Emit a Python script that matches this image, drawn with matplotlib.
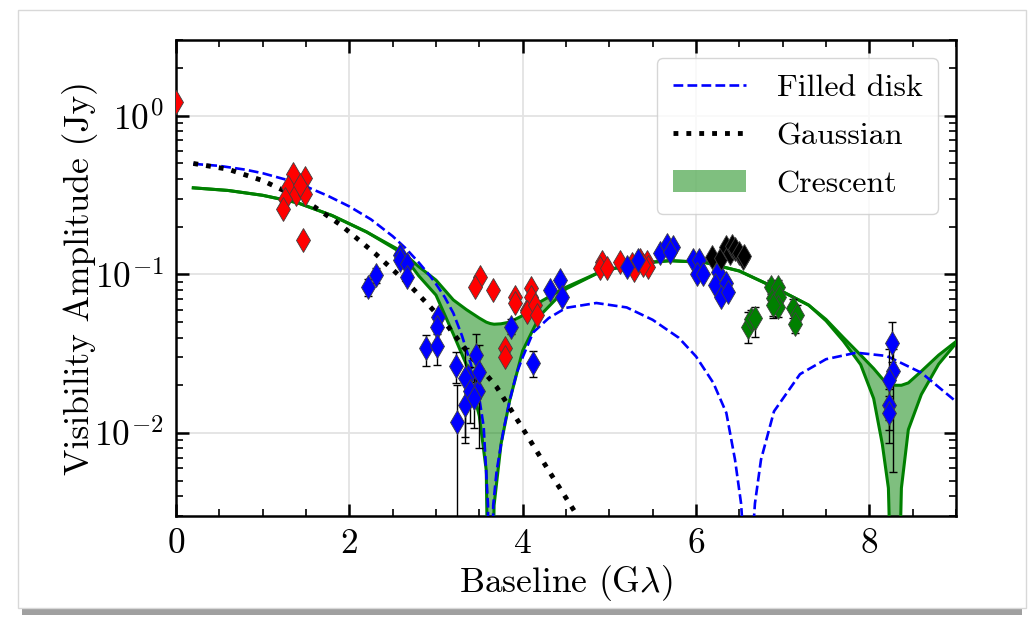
import matplotlib
matplotlib.use("Agg")
import matplotlib.pyplot as plt
import numpy as np
from matplotlib.ticker import AutoMinorLocator, LogLocator, NullFormatter
from matplotlib.patches import Rectangle

plt.rcParams['font.family'] = 'serif'
plt.rcParams['font.serif'] = ['cmr10']
plt.rcParams['mathtext.fontset'] = 'cm'
plt.rcParams['axes.formatter.use_mathtext'] = True
plt.rcParams['axes.unicode_minus'] = False

# ---------------- model curves ----------------
disk_x = [0.2, 0.5, 0.8, 1.0, 1.25, 1.5, 1.75, 2.0, 2.25, 2.5, 2.65, 2.8, 2.93, 3.0,
          3.1, 3.2, 3.3, 3.4, 3.5, 3.55, 3.6, 3.63, 3.66, 3.70, 3.78, 3.85, 3.93,
          4.0, 4.12, 4.3, 4.5, 4.85, 5.2, 5.5, 5.8, 6.0, 6.2, 6.35, 6.45, 6.52, 6.57,
          6.60, 6.63, 6.68, 6.75, 6.9, 7.2, 7.5, 7.85, 8.2, 8.6, 9.0]
disk_v = [0.497, 0.483, 0.457, 0.434, 0.398, 0.358, 0.313, 0.268, 0.222, 0.174, 0.146,
          0.119, 0.098, 0.087, 0.072, 0.057, 0.041, 0.0275, 0.0165, 0.011, 0.0035,
          0.00001, 0.0035, 0.0058, 0.0105, 0.016, 0.0238, 0.030, 0.043, 0.053, 0.0615,
          0.066, 0.0619, 0.0517, 0.0399, 0.0304, 0.0207, 0.0134, 0.0068, 0.0036, 0.0014,
          0.00001, 0.0014, 0.0036, 0.0068, 0.0137, 0.0235, 0.0292, 0.0321, 0.0306,
          0.0240, 0.0158]

gauss_x = [0.2, 0.6, 1.0, 1.5, 1.9, 2.3, 2.7, 3.1, 3.4, 3.7, 4.0, 4.3, 4.6, 4.8]
gauss_v = [0.50, 0.46, 0.39, 0.29, 0.205, 0.135, 0.085, 0.050, 0.0305, 0.0195,
           0.0107, 0.0058, 0.0032, 0.0020]

cres_x = [0.2, 0.6, 1.0, 1.4, 1.8, 2.2, 2.6, 2.8, 3.0, 3.2, 3.35, 3.5, 3.58, 3.625,
          3.67, 3.75, 3.85, 4.0, 4.2, 4.5, 4.9, 5.3, 5.7, 6.1, 6.5, 6.9, 7.3, 7.5,
          7.7, 7.9, 8.05, 8.15, 8.22, 8.30, 8.37, 8.45, 8.6, 8.8, 9.0]
cres_hi = [0.351, 0.338, 0.315, 0.283, 0.235, 0.185, 0.140, 0.112, 0.092, 0.069, 0.060,
           0.053, 0.050, 0.049, 0.0485, 0.0488, 0.050, 0.055, 0.067, 0.083, 0.104, 0.117,
           0.122, 0.119, 0.105, 0.083, 0.064, 0.052, 0.040, 0.031, 0.0255, 0.022, 0.0205,
           0.0200, 0.0200, 0.0207, 0.0245, 0.031, 0.0377]
cres_lo = [0.351, 0.338, 0.315, 0.283, 0.235, 0.185, 0.137, 0.098, 0.074, 0.042, 0.027,
           0.0128, 0.0058, 0.0001, 0.0035, 0.0085, 0.016, 0.033, 0.055, 0.081, 0.104,
           0.117, 0.122, 0.119, 0.105, 0.083, 0.064, 0.051, 0.038, 0.027, 0.0165, 0.0085,
           0.0045, 0.0001, 0.0045, 0.0105, 0.0175, 0.0272, 0.0368]

# ---------------- data points ----------------
red_x = [0.0, 1.351, 1.485, 1.294, 1.39, 1.485, 1.43, 1.255, 1.236, 1.466,
         3.51, 3.45, 3.655, 3.91, 3.91, 4.05, 3.80, 3.80, 4.10, 4.10, 4.05, 4.14, 4.16,
         4.91, 4.89, 4.97, 5.12, 5.26, 5.28, 5.35, 5.43, 5.45, 5.39]
red_v = [1.22, 0.432, 0.402, 0.356, 0.323, 0.323, 0.364, 0.30, 0.26, 0.164,
         0.0966, 0.0835, 0.0796, 0.0723, 0.0657, 0.0597, 0.0343, 0.0303, 0.0817, 0.0723,
         0.0582, 0.064, 0.0555,
         0.120, 0.109, 0.109, 0.120, 0.117, 0.106, 0.123, 0.120, 0.112, 0.115]

blue_x = [2.58, 2.59, 2.67, 2.66, 3.02, 3.01, 3.37, 3.45, 3.49, 4.32, 4.43, 4.45,
          5.20, 5.33, 5.58, 5.66, 5.74, 5.70, 5.97, 6.04, 6.01, 6.08, 6.25, 6.22,
          6.35, 6.29, 6.37]
blue_v = [0.132, 0.123, 0.117, 0.0966, 0.054, 0.0468, 0.0228, 0.018, 0.0183, 0.0796,
          0.092, 0.0723, 0.112, 0.123, 0.1356, 0.153, 0.149, 0.139, 0.123, 0.123,
          0.101, 0.101, 0.104, 0.0857, 0.0878, 0.0723, 0.0777]

blue_err_x = [2.21, 2.31, 2.89, 3.01, 3.23, 3.24, 3.34, 3.34, 3.39, 3.46, 3.50, 3.44,
              3.87, 4.12, 8.26, 8.27, 8.23, 8.23, 8.23]
blue_err_v = [0.0835, 0.099, 0.0343, 0.0352, 0.0266, 0.0118, 0.0222, 0.0151, 0.0183,
              0.031, 0.0244, 0.0166, 0.0468, 0.0278, 0.0368, 0.0245, 0.0216, 0.0151, 0.0134]
blue_err_lo = [0.0729, 0.088, 0.0264, 0.027, 0.0206, 0.0005, 0.0087, 0.0095, 0.0116,
               0.021, 0.0081, 0.0107, 0.042, 0.0225, 0.028, 0.0057, 0.0087, 0.0121, 0.0105]
blue_err_hi = [0.094, 0.110, 0.0415, 0.042, 0.0326, 0.020, 0.0342, 0.022, 0.026,
               0.0421, 0.036, 0.024, 0.052, 0.0331, 0.050, 0.034, 0.034, 0.019, 0.017]

black_x = [6.18, 6.29, 6.35, 6.39, 6.42, 6.45, 6.50, 6.54, 6.55]
black_v = [0.129, 0.126, 0.149, 0.1356, 0.150, 0.145, 0.1356, 0.126, 0.130]

green_x = [6.60, 6.63, 6.68, 6.87, 6.89, 6.95, 6.96, 6.95, 6.89, 7.12, 7.16, 7.14]
green_v = [0.0468, 0.052, 0.0529, 0.0835, 0.0706, 0.0835, 0.0723, 0.0626, 0.064,
           0.061, 0.0555, 0.049]
green_lo = [0.0368, 0.045, 0.0405, 0.075, 0.0529, 0.075, 0.062, 0.054, 0.055, 0.053,
            0.048, 0.0426]
green_hi = [0.058, 0.060, 0.062, 0.092, 0.082, 0.092, 0.082, 0.072, 0.074, 0.070,
            0.064, 0.056]

labels = ['Filled disk', 'Gaussian', 'Crescent']

# ---------------- figure ----------------
fig = plt.figure(figsize=(10.29, 6.2), dpi=100)
fig.patch.set_facecolor('white')
# page frame with shadow
fig.patches.append(Rectangle((22/1029, 5/620), 1000/1029, 600/620, transform=fig.transFigure,
                             facecolor='#a0a0a0', edgecolor='none', zorder=-3))
fig.patches.append(Rectangle((18/1029, 12/620), 1008/1029, 598/620, transform=fig.transFigure,
                             facecolor='white', edgecolor='#d8d8d8', lw=1.0, zorder=-2))

ax = fig.add_axes([176/1029, 104/620, 780/1029, 476/620])
ax.set_yscale('log')

green = '#008000'
ax.fill_between(cres_x, cres_lo, cres_hi, color=green, alpha=0.5, lw=0, label=labels[2], zorder=2)
ax.plot(cres_x, cres_hi, color=green, lw=2.2, zorder=3)
ax.plot(cres_x, cres_lo, color=green, lw=2.2, zorder=3)
ax.plot(disk_x, disk_v, color='blue', ls='--', lw=1.9, label=labels[0], zorder=4)
ax.plot(gauss_x, gauss_v, color='black', ls=':', lw=3.5, label=labels[1], zorder=4)

mk = dict(marker='d', ms=12.5, mec='0.25', mew=0.6, ls='none', zorder=6)
ekw = dict(fmt='none', ecolor='black', elinewidth=1.0, capsize=3, capthick=1.0, zorder=5)

def errs(v, lo, hi):
    v = np.asarray(v); return [v - np.asarray(lo), np.asarray(hi) - v]

ax.errorbar(blue_err_x, blue_err_v, yerr=errs(blue_err_v, blue_err_lo, blue_err_hi), **ekw)
ax.errorbar(green_x, green_v, yerr=errs(green_v, green_lo, green_hi), **ekw)

ax.plot(red_x, red_v, mfc='red', **mk)
ax.plot(blue_x, blue_v, mfc='blue', **mk)
ax.plot(blue_err_x, blue_err_v, mfc='blue', **mk)
ax.plot(black_x, black_v, mfc='black', **mk)
ax.plot(green_x, green_v, mfc=green, **mk)

ax.set_xlim(0, 9)
ax.set_ylim(3e-3, 3)
ax.set_xticks([0, 2, 4, 6, 8])
ax.xaxis.set_minor_locator(AutoMinorLocator(4))
ax.yaxis.set_major_locator(LogLocator(base=10, numticks=10))
ax.yaxis.set_minor_locator(LogLocator(base=10, subs=np.arange(2, 10), numticks=20))
ax.yaxis.set_minor_formatter(NullFormatter())
ax.tick_params(which='both', direction='in', top=True, right=True, labelsize=25.5, color='black')
ax.tick_params(which='major', length=9, width=1.8, pad=9)
ax.tick_params(which='minor', length=5, width=1.2)
for s in ax.spines.values():
    s.set_linewidth(1.8)
ax.grid(True, which='major', color='#e3e3e3', lw=1.3, zorder=0)
ax.set_axisbelow(True)

ax.set_xlabel(r'Baseline (G$\lambda$)', fontsize=25.5, labelpad=2)
ax.set_ylabel('Visibility Amplitude (Jy)', fontsize=25.5, labelpad=-3)

h, l = ax.get_legend_handles_labels()
order = [l.index(t) for t in labels]
leg = ax.legend([h[i] for i in order], [l[i] for i in order], loc='upper right', fontsize=23,
                handlelength=2.3, borderpad=0.5, labelspacing=0.62, handletextpad=0.95,
                borderaxespad=0.55, fancybox=True, framealpha=0.8, edgecolor='#cccccc')

fig.savefig('out.png', dpi=100)
